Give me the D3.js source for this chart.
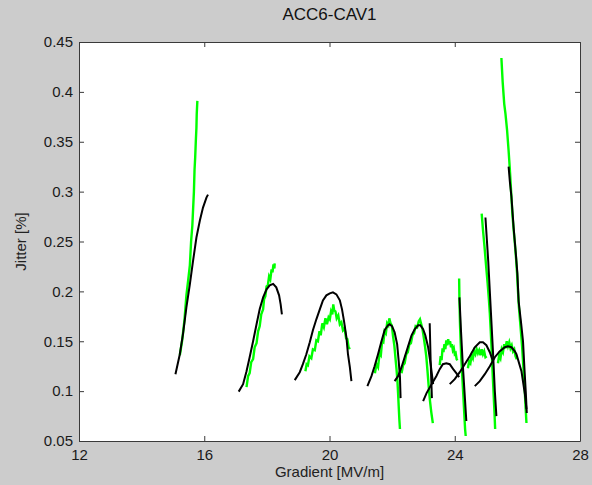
<!DOCTYPE html>
<html lang="en">
<head>
<meta charset="utf-8">
<title>ACC6-CAV1</title>
<script src="https://d3js.org/d3.v7.min.js"></script>
<style>
  body { margin: 0; background: #cccccc; }
  svg { display: block; font-family: "Liberation Sans", Arial, sans-serif; }
  .tick text { font-size: 15px; fill: #1a1a1a; }
  .tick line, .domain { stroke: #3a3a3a; }
</style>
</head>
<body>
<div id="chart"></div>
<script>
// axis setup
const xDomain = [12, 28];
const yDomain = [0.05, 0.45];
const xTicks = [12, 16, 20, 24, 28];
const yTicks = [0.05, 0.1, 0.15, 0.2, 0.25, 0.3, 0.35, 0.4, 0.45];

// measured jitter (green), one list per gradient sweep
const greenTraces = [
  [[15.22,0.136],[15.30,0.152],[15.37,0.172],[15.43,0.196],[15.49,0.212],[15.54,0.226],[15.58,0.250],[15.62,0.266],[15.64,0.280],[15.67,0.300],[15.69,0.322],[15.71,0.334],[15.73,0.350],[15.75,0.364],[15.76,0.378],[15.78,0.391]],
  [[17.35,0.104],[17.40,0.115],[17.45,0.118],[17.50,0.129],[17.56,0.132],[17.61,0.144],[17.67,0.148],[17.72,0.160],[17.77,0.165],[17.82,0.177],[17.88,0.182],[17.91,0.192],[17.95,0.195],[17.99,0.205],[18.03,0.206],[18.07,0.215],[18.11,0.212],[18.15,0.222],[18.18,0.219],[18.21,0.227],[18.24,0.223],[18.25,0.228]],
  [[19.23,0.120],[19.27,0.127],[19.31,0.126],[19.36,0.135],[19.42,0.133],[19.47,0.142],[19.53,0.141],[19.58,0.151],[19.63,0.150],[19.68,0.160],[19.72,0.156],[19.77,0.168],[19.82,0.164],[19.87,0.173],[19.92,0.167],[19.97,0.174],[20.01,0.172],[20.05,0.180],[20.09,0.177],[20.12,0.187],[20.15,0.181],[20.19,0.180],[20.23,0.173],[20.28,0.176],[20.33,0.167],[20.38,0.169],[20.43,0.161],[20.48,0.163],[20.53,0.153],[20.57,0.152],[20.61,0.144],[20.65,0.142]],
  [[21.45,0.118],[21.50,0.127],[21.55,0.124],[21.60,0.138],[21.64,0.136],[21.68,0.150],[21.72,0.149],[21.76,0.160],[21.80,0.158],[21.84,0.168],[21.88,0.166],[21.91,0.173],[21.95,0.168],[21.99,0.166],[22.03,0.155],[22.07,0.146],[22.11,0.132],[22.14,0.122],[22.17,0.110],[22.19,0.098],[22.21,0.085],[22.23,0.072],[22.25,0.062]],
  [[22.30,0.118],[22.35,0.126],[22.40,0.128],[22.45,0.137],[22.50,0.139],[22.55,0.147],[22.60,0.148],[22.65,0.156],[22.70,0.158],[22.75,0.165],[22.80,0.164],[22.85,0.170],[22.89,0.172],[22.93,0.167],[22.97,0.162],[23.01,0.154],[23.05,0.145],[23.09,0.135],[23.13,0.120],[23.17,0.104],[23.21,0.090],[23.25,0.079],[23.30,0.068]],
  [[23.52,0.126],[23.55,0.135],[23.58,0.131],[23.61,0.143],[23.64,0.139],[23.67,0.147],[23.70,0.142],[23.73,0.151],[23.76,0.146],[23.79,0.152],[23.82,0.147],[23.85,0.150],[23.88,0.144],[23.91,0.147],[23.94,0.141],[23.97,0.143],[24.00,0.137],[24.03,0.138],[24.06,0.132],[24.09,0.131]],
  [[24.14,0.213],[24.15,0.190],[24.17,0.165],[24.19,0.148],[24.21,0.132],[24.24,0.115],[24.27,0.098],[24.30,0.080],[24.33,0.062],[24.35,0.055]],
  [[24.42,0.123],[24.46,0.130],[24.50,0.128],[24.54,0.136],[24.58,0.133],[24.62,0.140],[24.66,0.137],[24.70,0.142],[24.74,0.138],[24.78,0.141],[24.82,0.136],[24.86,0.142],[24.90,0.137],[24.94,0.140],[24.98,0.134],[25.02,0.135]],
  [[24.86,0.278],[24.90,0.262],[24.95,0.245],[25.00,0.226],[25.05,0.208],[25.09,0.192],[25.12,0.178],[25.15,0.160],[25.18,0.140],[25.21,0.118],[25.24,0.098],[25.27,0.078],[25.29,0.062]],
  [[25.38,0.128],[25.42,0.136],[25.46,0.133],[25.50,0.142],[25.54,0.139],[25.58,0.147],[25.62,0.143],[25.66,0.150],[25.70,0.145],[25.74,0.149],[25.78,0.143],[25.82,0.146],[25.86,0.140],[25.90,0.142],[25.94,0.135],[25.98,0.132]],
  [[25.49,0.434],[25.53,0.410],[25.58,0.388],[25.62,0.378],[25.67,0.362],[25.72,0.341],[25.76,0.322],[25.80,0.300],[25.84,0.278],[25.88,0.262],[25.92,0.248],[25.96,0.232],[25.99,0.218],[26.02,0.200],[26.05,0.184],[26.10,0.165],[26.15,0.145],[26.19,0.125],[26.23,0.105],[26.26,0.085],[26.29,0.068]]
];

// fitted curves (black)
const blackTraces = [
  [[15.08,0.117],[15.22,0.137],[15.32,0.157],[15.43,0.184],[15.54,0.207],[15.64,0.230],[15.75,0.254],[15.86,0.271],[15.96,0.284],[16.07,0.294],[16.12,0.297]],
  [[17.10,0.0995],[17.24,0.107],[17.35,0.120],[17.45,0.134],[17.56,0.150],[17.67,0.167],[17.77,0.182],[17.88,0.194],[17.99,0.202],[18.09,0.206],[18.20,0.2075],[18.30,0.204],[18.39,0.196],[18.44,0.187],[18.48,0.177]],
  [[18.89,0.111],[19.05,0.119],[19.15,0.127],[19.26,0.137],[19.37,0.149],[19.47,0.161],[19.58,0.172],[19.69,0.182],[19.79,0.191],[19.90,0.196],[20.01,0.198],[20.11,0.199],[20.22,0.197],[20.33,0.191],[20.40,0.182],[20.46,0.171],[20.54,0.154],[20.59,0.137],[20.65,0.124],[20.70,0.110]],
  [[21.21,0.105],[21.34,0.115],[21.44,0.125],[21.55,0.137],[21.66,0.150],[21.76,0.161],[21.87,0.166],[21.92,0.167],[22.00,0.165],[22.08,0.159],[22.16,0.147],[22.21,0.130],[22.25,0.114],[22.27,0.093]],
  [[22.08,0.110],[22.19,0.115],[22.30,0.124],[22.40,0.134],[22.51,0.145],[22.62,0.156],[22.72,0.162],[22.83,0.166],[22.90,0.166],[22.99,0.162],[23.06,0.156],[23.15,0.144],[23.23,0.127],[23.31,0.107]],
  [[23.20,0.168],[23.23,0.130],[23.27,0.093]],
  [[22.99,0.090],[23.10,0.098],[23.26,0.107],[23.41,0.115],[23.52,0.122],[23.62,0.127],[23.73,0.128],[23.84,0.127],[23.95,0.122],[24.05,0.118],[24.14,0.114]],
  [[24.15,0.194],[24.20,0.160],[24.25,0.130],[24.30,0.105],[24.34,0.085],[24.37,0.070]],
  [[23.84,0.107],[24.00,0.112],[24.16,0.119],[24.32,0.127],[24.48,0.135],[24.64,0.144],[24.80,0.149],[24.90,0.149],[25.01,0.146],[25.12,0.139],[25.22,0.130]],
  [[24.98,0.274],[25.07,0.230],[25.15,0.182],[25.22,0.140],[25.28,0.100],[25.33,0.075]],
  [[24.64,0.105],[24.80,0.110],[24.96,0.117],[25.12,0.125],[25.28,0.134],[25.44,0.140],[25.60,0.144],[25.70,0.145],[25.81,0.144],[25.92,0.140],[25.97,0.137],[26.13,0.120],[26.24,0.097],[26.29,0.082]],
  [[25.72,0.325],[25.76,0.310],[25.81,0.295],[25.88,0.264],[25.95,0.238],[26.00,0.218],[26.04,0.190],[26.12,0.168],[26.18,0.150],[26.23,0.120],[26.27,0.098],[26.30,0.078]]
];

const width = 592, height = 485;
const margin = {top: 42, right: 12, bottom: 44, left: 79};
const innerW = width - margin.left - margin.right;
const innerH = height - margin.top - margin.bottom;

const svg = d3.select('#chart').append('svg')
  .attr('width', width)
  .attr('height', height);

svg.append('rect')
  .attr('width', width)
  .attr('height', height)
  .attr('fill', '#cccccc');

const g = svg.append('g')
  .attr('transform', `translate(${margin.left},${margin.top})`);

const x = d3.scaleLinear().domain(xDomain).range([0, innerW]);
const y = d3.scaleLinear().domain(yDomain).range([innerH, 0]);

g.append('rect')
  .attr('width', innerW)
  .attr('height', innerH)
  .attr('fill', '#ffffff');

const line = d3.line()
  .x(d => x(d[0]))
  .y(d => y(d[1]));

g.append('g').selectAll('path')
  .data(greenTraces)
  .join('path')
  .attr('d', line)
  .attr('fill', 'none')
  .attr('stroke', '#00ff00')
  .attr('stroke-width', 2.4);

g.append('g').selectAll('path')
  .data(blackTraces)
  .join('path')
  .attr('d', line)
  .attr('fill', 'none')
  .attr('stroke', '#000000')
  .attr('stroke-width', 2);

// axes, ticks pointing inward like matlab
g.append('g')
  .attr('transform', `translate(0,${innerH})`)
  .call(d3.axisBottom(x).tickValues(xTicks).tickSizeInner(-5).tickSizeOuter(0).tickPadding(8).tickFormat(d3.format('d')));

g.append('g')
  .call(d3.axisTop(x).tickValues(xTicks).tickSizeInner(-5).tickSizeOuter(0).tickFormat(''));

g.append('g')
  .call(d3.axisLeft(y).tickValues(yTicks).tickSizeInner(-5).tickSizeOuter(0).tickPadding(6).tickFormat(d => d3.format('')(+d.toFixed(2))));

g.append('g')
  .attr('transform', `translate(${innerW},0)`)
  .call(d3.axisRight(y).tickValues(yTicks).tickSizeInner(-5).tickSizeOuter(0).tickFormat(''));

// labels
svg.append('text')
  .attr('x', margin.left + innerW / 2)
  .attr('y', 20)
  .attr('text-anchor', 'middle')
  .attr('font-size', 17)
  .attr('fill', '#111')
  .text('ACC6-CAV1');

svg.append('text')
  .attr('x', margin.left + innerW / 2)
  .attr('y', 477)
  .attr('text-anchor', 'middle')
  .attr('font-size', 15)
  .attr('fill', '#222')
  .text('Gradient [MV/m]');

svg.append('text')
  .attr('transform', `translate(26,${margin.top + innerH / 2}) rotate(-90)`)
  .attr('text-anchor', 'middle')
  .attr('font-size', 15)
  .attr('fill', '#222')
  .text('Jitter [%]');
</script>
</body>
</html>
